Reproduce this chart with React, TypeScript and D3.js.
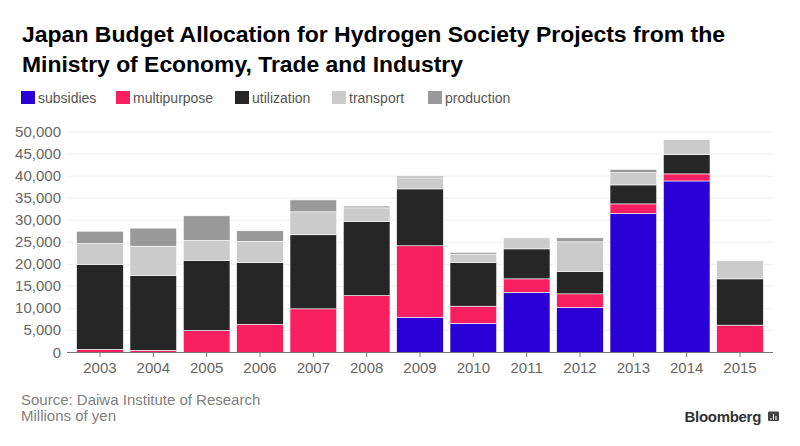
import React from "react";
import * as d3 from "d3";

const years = ["2003","2004","2005","2006","2007","2008","2009","2010","2011","2012","2013","2014","2015"];
const seriesKeys = ["subsidies","multipurpose","utilization","transport","production"];
const seriesColors = ["#2a00d6","#f81e62","#262626","#cbcbcb","#999999"];
const subsidies =    [0,0,0,0,0,0,8000,6600,13600,10200,31500,38900,0];
const multipurpose = [700,500,5000,6400,9900,12900,16200,3900,3100,3100,2200,1600,6200];
const utilization =  [19300,17000,15900,14000,16800,16800,12900,9900,6800,5100,4300,4400,10500];
const transport =    [4700,6600,4500,4800,5200,3100,2500,1900,2500,6700,2800,3400,4100];
const production =   [2800,4100,5600,2400,2700,400,400,400,0,900,700,0,0];
const yTicks = [0,5000,10000,15000,20000,25000,30000,35000,40000,45000,50000];

const W = 800, H = 446;
const FONT = "'Liberation Sans', Arial, Helvetica, sans-serif";

export default function App() {
  const rows = years.map((y, i) => ({
    year: y,
    subsidies: subsidies[i],
    multipurpose: multipurpose[i],
    utilization: utilization[i],
    transport: transport[i],
    production: production[i],
  }));
  const stack = d3.stack<any>().keys(seriesKeys)(rows);
  const x = d3.scaleBand().domain(years).range([73.3, 766.7]).paddingInner(0.125).paddingOuter(0.0625);
  const y = d3.scaleLinear().domain([0, 50000]).range([352.5, 132]);
  const fmt = d3.format(",");
  const legendX = [21, 116, 235, 332, 428];

  return (
    <svg width={W} height={H} style={{ display: "block", position: "absolute", left: 0, top: 0 }} fontFamily={FONT}>
      <rect width={W} height={H} fill="#fff" />
      <text x={22} y={42} fontSize={21.5} fontWeight="bold" fill="#000" textLength={703} lengthAdjust="spacingAndGlyphs">
        Japan Budget Allocation for Hydrogen Society Projects from the
      </text>
      <text x={22} y={72} fontSize={21.5} fontWeight="bold" fill="#000" textLength={441} lengthAdjust="spacingAndGlyphs">
        Ministry of Economy, Trade and Industry
      </text>
      {seriesKeys.map((k, i) => (
        <g key={k}>
          <rect x={legendX[i]} y={91} width={14} height={13} fill={seriesColors[i]} />
          <text x={legendX[i] + 17} y={102.5} fontSize={14} fill="#555">{k}</text>
        </g>
      ))}
      {yTicks.map((t) => (
        <g key={t}>
          {t > 0 && <line x1={67} x2={773} y1={y(t)} y2={y(t)} stroke="#efefef" strokeWidth={1} />}
          <text x={61} y={y(t) + 5} fontSize={15} fill="#666" textAnchor="end">{fmt(t)}</text>
        </g>
      ))}
      {stack.map((s, si) => (
        <g key={s.key}>
          {s.map((d, i) => {
            const h = y(d[0]) - y(d[1]);
            if (h <= 0) return null;
            return (
              <rect key={i} x={x(years[i])} y={y(d[1])} width={x.bandwidth()} height={h}
                fill={seriesColors[si]} stroke="#fff" strokeWidth={0.6} />
            );
          })}
        </g>
      ))}
      <line x1={67} x2={773} y1={352.5} y2={352.5} stroke="#777" strokeWidth={1} />
      {years.map((yr) => {
        const cx = (x(yr) as number) + x.bandwidth() / 2;
        return (
          <g key={yr}>
            <line x1={cx} x2={cx} y1={352.5} y2={357} stroke="#777" strokeWidth={1} />
            <text x={cx} y={373} fontSize={15} fill="#666" textAnchor="middle">{yr}</text>
          </g>
        );
      })}
      <text x={21} y={404.5} fontSize={15} fill="#808080">Source: Daiwa Institute of Research</text>
      <text x={21} y={420.5} fontSize={15} fill="#808080">Millions of yen</text>
      <text x={761} y={421.5} fontSize={15} fontWeight="bold" fill="#333" textAnchor="end" letterSpacing={-0.3}>Bloomberg</text>
      <g>
        <rect x={768} y={411.5} width={11} height={9.5} fill="#444" rx={1} />
        <line x1={771} x2={771} y1={418} y2={420} stroke="#fff" strokeWidth={1} />
        <line x1={773.5} x2={773.5} y1={414} y2={420} stroke="#fff" strokeWidth={1} />
        <line x1={776} x2={776} y1={416} y2={420} stroke="#fff" strokeWidth={1} />
      </g>
    </svg>
  );
}
